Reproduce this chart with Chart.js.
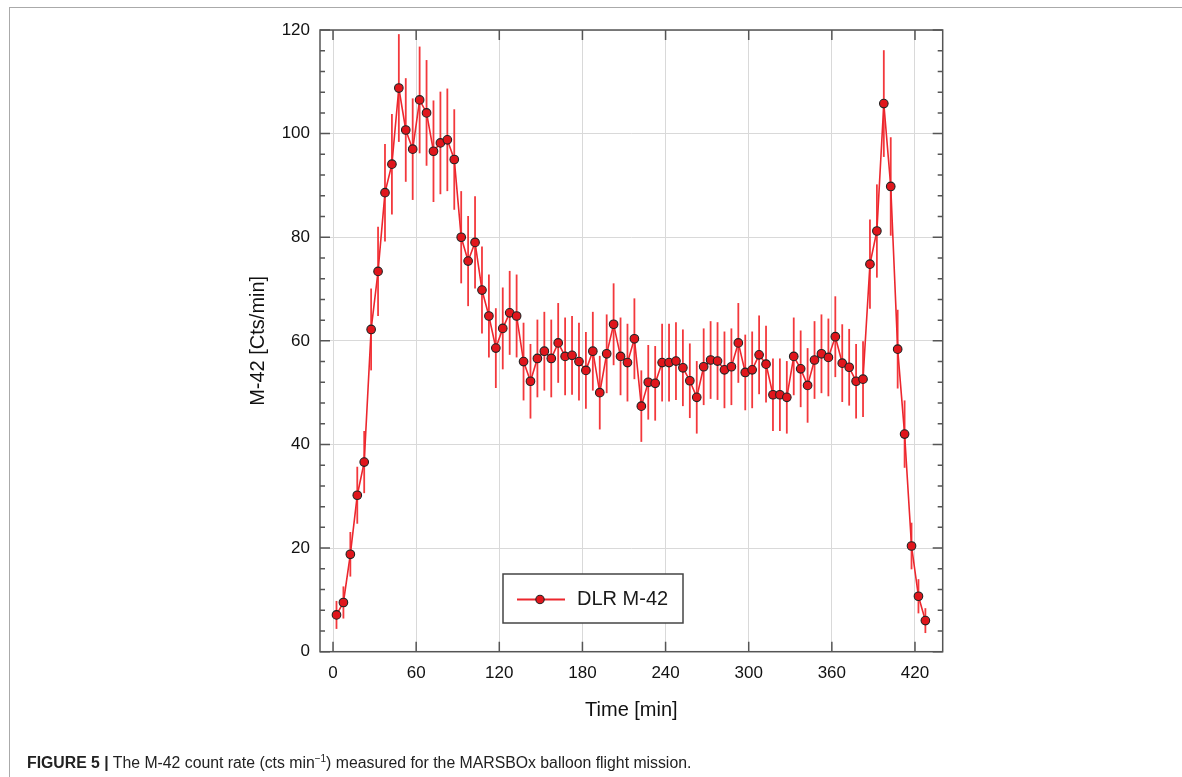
<!DOCTYPE html>
<html>
<head>
<meta charset="utf-8">
<script src="https://cdn.jsdelivr.net/npm/chart.js@4.4.0/dist/chart.umd.min.js"></script>
<style>
  body { margin: 0; background: #fff; }
  #wrap { position: relative; width: 1182px; height: 777px; }
  #frame { position: absolute; left: 9px; top: 7px; right: 0; bottom: 0;
           border-top: 1px solid #aaa; border-left: 1px solid #aaa; }
  #caption { position: absolute; left: 27px; top: 749px; font: 15.8px "Liberation Sans", Arial, sans-serif;
             line-height: 19px; color: #222; white-space: nowrap; }
  #caption sup { font-size: 10px; }
</style>
</head>
<body>
<div id="wrap">
  <div id="frame"></div>
  <canvas id="myChart" width="1182" height="777"></canvas>
  <div id="caption"><b>FIGURE 5 |</b> The M-42 count rate (cts min<sup>&minus;1</sup>) measured for the MARSBOx balloon flight mission.</div>
</div>
<script>
// data
var times = [2.5, 7.5, 12.5, 17.5, 22.5, 27.5, 32.5, 37.5, 42.5, 47.5,
  52.5, 57.5, 62.5, 67.5, 72.5, 77.5, 82.5, 87.5, 92.5, 97.5,
  102.5, 107.5, 112.5, 117.5, 122.5, 127.5, 132.5, 137.5, 142.5, 147.5,
  152.5, 157.5, 162.5, 167.5, 172.5, 177.5, 182.5, 187.5, 192.5, 197.5,
  202.5, 207.5, 212.5, 217.5, 222.5, 227.5, 232.5, 237.5, 242.5, 247.5,
  252.5, 257.5, 262.5, 267.5, 272.5, 277.5, 282.5, 287.5, 292.5, 297.5,
  302.5, 307.5, 312.5, 317.5, 322.5, 327.5, 332.5, 337.5, 342.5, 347.5,
  352.5, 357.5, 362.5, 367.5, 372.5, 377.5, 382.5, 387.5, 392.5, 397.5,
  402.5, 407.5, 412.5, 417.5, 422.5, 427.5];
var counts = [7.1, 9.5, 18.8, 30.2, 36.6, 62.2, 73.4, 88.6, 94.1, 108.8,
  100.7, 97.0, 106.5, 104.0, 96.6, 98.2, 98.8, 95.0, 80.0, 75.4,
  79.0, 69.8, 64.8, 58.6, 62.4, 65.4, 64.8, 56.0, 52.2, 56.6,
  58.0, 56.6, 59.6, 57.0, 57.2, 56.0, 54.3, 58.0, 50.0, 57.5,
  63.2, 57.0, 55.8, 60.4, 47.4, 52.0, 51.8, 55.8, 55.8, 56.1,
  54.8, 52.3, 49.1, 55.0, 56.3, 56.1, 54.4, 55.0, 59.6, 53.9,
  54.4, 57.3, 55.5, 49.6, 49.6, 49.1, 57.0, 54.6, 51.4, 56.3,
  57.5, 56.8, 60.8, 55.7, 54.9, 52.2, 52.6, 74.8, 81.2, 105.8,
  89.8, 58.4, 42.0, 20.4, 10.7, 6.0];
var errs = [2.7, 3.1, 4.3, 5.5, 6.0, 7.9, 8.6, 9.4, 9.7, 10.4,
  10.0, 9.8, 10.3, 10.2, 9.8, 9.9, 9.9, 9.7, 8.9, 8.7,
  8.9, 8.4, 8.0, 7.7, 7.9, 8.1, 8.0, 7.5, 7.2, 7.5,
  7.6, 7.5, 7.7, 7.5, 7.6, 7.5, 7.4, 7.6, 7.1, 7.6,
  7.9, 7.5, 7.5, 7.8, 6.9, 7.2, 7.2, 7.5, 7.5, 7.5,
  7.4, 7.2, 7.0, 7.4, 7.5, 7.5, 7.4, 7.4, 7.7, 7.3,
  7.4, 7.6, 7.4, 7.0, 7.0, 7.0, 7.5, 7.4, 7.2, 7.5,
  7.6, 7.5, 7.8, 7.5, 7.4, 7.2, 7.3, 8.6, 9.0, 10.3,
  9.5, 7.6, 6.5, 4.5, 3.3, 2.4];
var xTicks = [0, 60, 120, 180, 240, 300, 360, 420];
var yTicks = [0, 20, 40, 60, 80, 100, 120];
var yMinorStep = 4;

var RED = '#ec262d';
var FONT = '"Liberation Sans", Arial, sans-serif';

// vertical error bars, drawn under the markers
var errorBars = {
  id: 'errorBars',
  beforeDatasetsDraw: function (chart) {
    var c = chart.ctx, xs = chart.scales.x, ys = chart.scales.y;
    c.save();
    c.strokeStyle = 'rgba(242,45,50,0.95)';
    c.lineWidth = 1.8;
    for (var i = 0; i < times.length; i++) {
      var px = xs.getPixelForValue(times[i]);
      c.beginPath();
      c.moveTo(px, ys.getPixelForValue(counts[i] + errs[i]));
      c.lineTo(px, ys.getPixelForValue(Math.max(0, counts[i] - errs[i])));
      c.stroke();
    }
    c.restore();
  }
};

// closed frame with inward ticks + legend box
var frameTicks = {
  id: 'frameTicks',
  afterDraw: function (chart) {
    var c = chart.ctx, a = chart.chartArea, xs = chart.scales.x, ys = chart.scales.y;
    c.save();
    c.strokeStyle = '#555';
    c.lineWidth = 1.5;
    c.strokeRect(a.left, a.top, a.right - a.left, a.bottom - a.top);
    c.beginPath();
    xTicks.forEach(function (v) {
      var px = xs.getPixelForValue(v);
      c.moveTo(px, a.bottom); c.lineTo(px, a.bottom - 10);
      c.moveTo(px, a.top); c.lineTo(px, a.top + 10);
    });
    for (var v = 0; v <= 120; v += yMinorStep) {
      var py = ys.getPixelForValue(v);
      var len = (v % 20 === 0) ? 10 : 5;
      c.moveTo(a.left, py); c.lineTo(a.left + len, py);
      c.moveTo(a.right, py); c.lineTo(a.right - len, py);
    }
    c.stroke();

    // legend
    var lx = 503, ly = 574, lw = 180, lh = 49;
    c.fillStyle = '#fff';
    c.fillRect(lx, ly, lw, lh);
    c.strokeStyle = '#444';
    c.lineWidth = 1.5;
    c.strokeRect(lx, ly, lw, lh);
    var my = ly + lh / 2 + 1;
    c.strokeStyle = RED;
    c.lineWidth = 1.8;
    c.beginPath(); c.moveTo(lx + 14, my); c.lineTo(lx + 62, my); c.stroke();
    c.beginPath(); c.arc(lx + 37, my, 4.2, 0, Math.PI * 2);
    c.fillStyle = '#e0161c'; c.fill();
    c.strokeStyle = '#222'; c.lineWidth = 1.1; c.stroke();
    c.fillStyle = '#1a1a1a';
    c.font = '20px ' + FONT;
    c.textBaseline = 'middle';
    c.textAlign = 'left';
    c.fillText(chart.data.datasets[0].label, lx + 74, my);
    c.restore();
  }
};

var points = times.map(function (t, i) { return { x: t, y: counts[i] }; });

var ctx = document.getElementById('myChart').getContext('2d');
var myChart = new Chart(ctx, {
  type: 'scatter',
  data: {
    datasets: [{
      label: 'DLR M-42',
      data: points,
      showLine: true,
      borderColor: RED,
      borderWidth: 1.6,
      backgroundColor: '#e0161c',
      pointBorderColor: '#222',
      pointBorderWidth: 1.1,
      pointRadius: 4.3
    }]
  },
  options: {
    responsive: false,
    animation: false,
    layout: { padding: { left: 0, top: 30, right: 239.3, bottom: 0 } },
    plugins: { legend: { display: false }, tooltip: { enabled: false } },
    scales: {
      x: {
        type: 'linear', min: -9.4, max: 440,
        afterBuildTicks: function (s) { s.ticks = xTicks.map(function (v) { return { value: v }; }); },
        afterFit: function (s) { s.height = 125.3; },
        grid: { color: '#d9d9d9', lineWidth: 1, drawTicks: false },
        border: { display: false },
        ticks: { color: '#111', padding: 11, maxRotation: 0, font: { family: FONT, size: 17 } },
        title: { display: true, text: 'Time [min]', color: '#111',
                 font: { family: FONT, size: 20 }, padding: { top: 0, bottom: 55 } }
      },
      y: {
        min: 0, max: 120,
        afterBuildTicks: function (s) { s.ticks = yTicks.map(function (v) { return { value: v }; }); },
        afterFit: function (s) { s.width = 320; },
        grid: { color: '#d9d9d9', lineWidth: 1, drawTicks: false },
        border: { display: false },
        ticks: { color: '#111', padding: 10, font: { family: FONT, size: 17 } },
        title: { display: true, text: 'M-42 [Cts/min]', color: '#111',
                 font: { family: FONT, size: 20 }, padding: { top: 246.6, bottom: 0 } }
      }
    }
  },
  plugins: [errorBars, frameTicks]
});
</script>
</body>
</html>
